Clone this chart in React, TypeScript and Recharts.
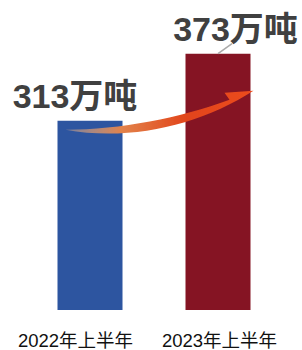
import { BarChart, Bar, XAxis, YAxis, LabelList, Cell, Rectangle } from 'recharts';

const categories = ['2022年上半年', '2023年上半年'];
const output = [313, 373];
const unit = '万吨';
const barColors = ['#2d55a0', '#851423'];

const data = categories.map((name, i) => ({ name, value: output[i] }));

// arrow from the first bar into the second one, drawn with the second bar
function ArrowBar(props: any) {
  const { x, y, width, height, fill, index } = props;
  if (index !== 1) return <Rectangle x={x} y={y} width={width} height={height} fill={fill} />;
  const tx = x - 120;
  const ty = y + 76;
  const path = [
    `M ${tx} ${ty}`,
    `C ${x - 55} ${y + 88} ${x + 15} ${y + 71} ${x + 68} ${y + 37}`,
    `L ${x + 39} ${y + 39}`,
    `L ${x + 44} ${y + 46}`,
    `C ${x - 5} ${y + 64} ${x - 65} ${y + 76} ${tx} ${ty}`,
    'Z',
  ].join(' ');
  return (
    <g>
      <Rectangle x={x} y={y} width={width} height={height} fill={fill} />
      <defs>
        <linearGradient id="arrowGrad" gradientUnits="userSpaceOnUse" x1={tx} y1={0} x2={x + 68} y2={0}>
          <stop offset="0%" stopColor="#e8b890" stopOpacity={0.4} />
          <stop offset="30%" stopColor="#e2824a" />
          <stop offset="65%" stopColor="#e2441a" />
          <stop offset="100%" stopColor="#ec4c1e" />
        </linearGradient>
        <filter id="arrowBlur">
          <feGaussianBlur stdDeviation="0.6" />
        </filter>
      </defs>
      <path d={path} fill="url(#arrowGrad)" filter="url(#arrowBlur)" />
    </g>
  );
}

function ValueLabel(props: any) {
  const { x, y, width, value, index } = props;
  const cx = x + width / 2;
  const dx = index === 0 ? -15 : 17.5;
  return (
    <g>
      {index === 1 && <line x1={cx} y1={y} x2={cx + 14} y2={y - 10} stroke="#aaaaaa" strokeWidth={1.5} />}
      <text
        x={cx + dx}
        y={y - 13}
        textAnchor="middle"
        fontSize={34}
        fontWeight="bold"
        fill="#404040"
        fontFamily="'Liberation Sans', 'Noto Sans CJK SC', sans-serif"
      >
        {value}
        {unit}
      </text>
    </g>
  );
}

function CategoryTick(props: any) {
  const { x, y, payload, index } = props;
  const dx = index === 0 ? -14 : 2;
  return (
    <text
      x={x + dx}
      y={y + 37}
      textAnchor="middle"
      fontSize={18.5}
      fill="#111111"
      fontFamily="'Liberation Sans', 'Noto Sans CJK SC', sans-serif"
    >
      {payload.value}
    </text>
  );
}

export default function App() {
  return (
    <div style={{ position: 'absolute', left: 0, top: 0, width: 302, height: 350, background: '#fff' }}>
      <BarChart width={302} height={350} data={data} margin={{ top: 10, right: 20.5, bottom: 0, left: 25.5 }}>
        <XAxis
          dataKey="name"
          axisLine={false}
          tickLine={false}
          tickSize={0}
          tickMargin={0}
          height={40}
          interval={0}
          tick={<CategoryTick />}
        />
        <YAxis hide domain={[144, 412]} allowDataOverflow />
        <Bar dataKey="value" barSize={65} isAnimationActive={false} shape={<ArrowBar />}>
          {data.map((_, i) => (
            <Cell key={`cell-${i}`} fill={barColors[i]} />
          ))}
          <LabelList dataKey="value" content={<ValueLabel />} />
        </Bar>
      </BarChart>
    </div>
  );
}
